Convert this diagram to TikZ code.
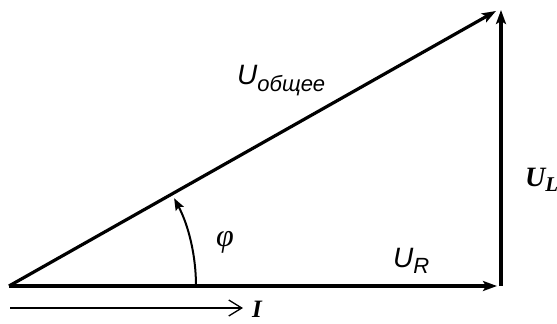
\documentclass[tikz,border=0pt]{standalone}
\usepackage{fontspec}
\setmainfont{Liberation Serif}
\setsansfont{Liberation Sans}
\usetikzlibrary{arrows.meta}
\tikzset{
  vec/.style={line width=3.2pt, -{Stealth[length=14pt,width=10pt,inset=3pt]}},
  angarrow/.style={line width=2pt, -{Stealth[length=12pt,width=9pt,inset=2pt]}},
  curarrow/.style={line width=1.3pt, -{Straight Barb[length=13pt,width=16pt,line width=1.3pt]}},
  sanslbl/.style={font=\sffamily\itshape\fontsize{28}{28}\selectfont, inner sep=0pt},
  seriflbl/.style={font=\bfseries\itshape\fontsize{28}{28}\selectfont, inner sep=0pt},
}
\begin{document}
\begin{tikzpicture}[x=1pt,y=-1pt]
\useasboundingbox (0,0) rectangle (557,324);
\coordinate (O) at (9,286);
\coordinate (R) at (497,286);
\coordinate (B) at (501,286);
\coordinate (T) at (501,10);
\coordinate (H) at (496,11);
\coordinate (A0) at (196,286);
\coordinate (I0) at (10,308);
\coordinate (I1) at (243,308);
\draw[vec] (O) -- (R);
\draw[vec] (B) -- (T);
\draw[vec] (O) -- (H);
\draw[angarrow] (A0) arc[start angle=0, end angle=-28, radius=187];
\draw[curarrow] (I0) -- (I1);
\node[sanslbl, anchor=base west] (Uo) at (237,84) {U\textsubscript{\fontsize{22}{22}\selectfont общее}};
\node[sanslbl, anchor=base west] (Ur) at (393,267) {U\textsubscript{\fontsize{22}{22}\selectfont R}};
\node[seriflbl, anchor=base west] (Ul) at (525,186) {U\textsubscript{\fontsize{21}{21}\selectfont L}};
\node[inner sep=0pt, anchor=base, font=\itshape\fontsize{32}{32}\selectfont] (phi) at (225,246) {φ};
\node[seriflbl, anchor=base west, font=\bfseries\itshape\fontsize{25}{25}\selectfont] (I) at (252,317) {I};
\end{tikzpicture}
\end{document}
